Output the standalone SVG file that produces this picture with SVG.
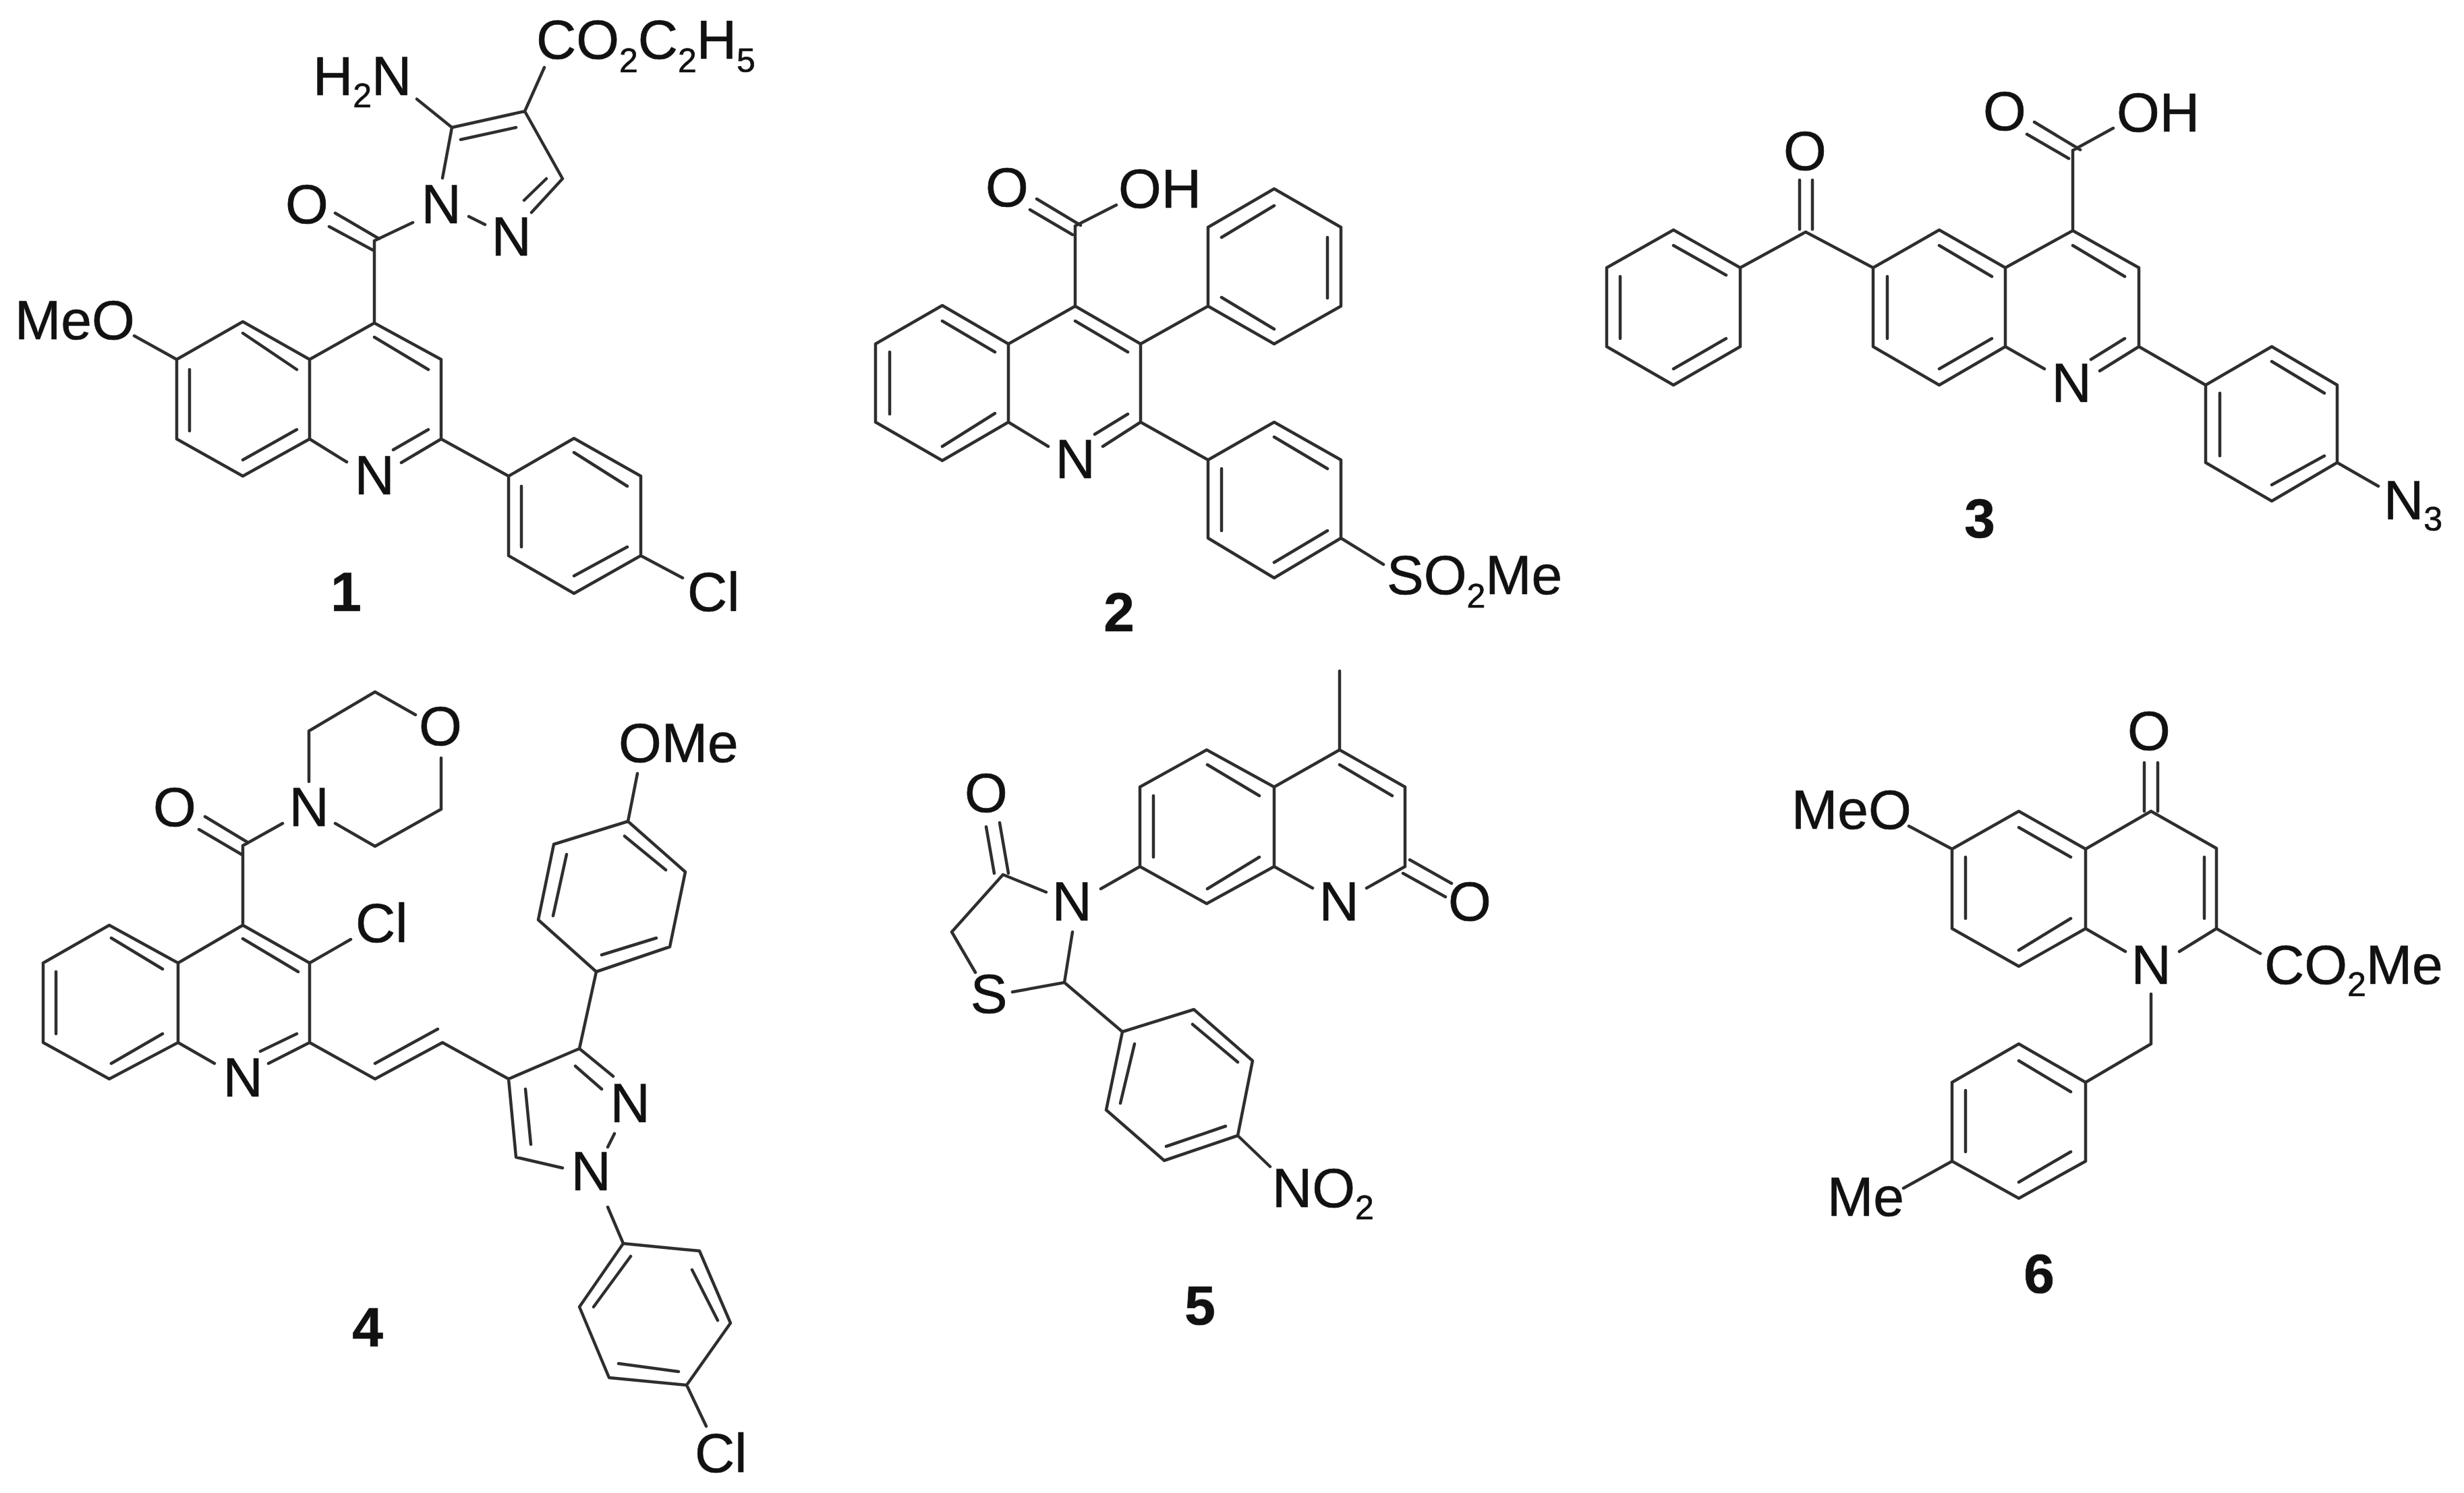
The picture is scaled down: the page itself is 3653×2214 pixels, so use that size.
<svg xmlns="http://www.w3.org/2000/svg" width="3653" height="2214" viewBox="0 0 3653 2214">
<style>
.b{fill:none;stroke:#2e2e2e;stroke-width:4.5;stroke-linecap:round;stroke-linejoin:round}
text{font-family:"Liberation Sans",Arial,sans-serif;font-size:82px;fill:#111;stroke:#111;stroke-width:0.7}
.m{text-anchor:middle}
.l{font-weight:bold;text-anchor:middle}
.s{font-size:50px}
</style>
<rect width="3653" height="2214" fill="#fff"/>
<g id="compound-1">
<path class="b" d="M360 477L459 533L459 651L360 706L262 651L262 533Z M459 533L555 479L654 533L654 651 M459 651L514 685 M654 651L595 686 M360 494L440 548 M281 548L281 639 M440 637L360 682 M555 500L635 548 M635 637L583 667 M555 479L555 357 M497 316L562 354 M488 336L553 371 M555 357L612 330 M695 321L719 333 M788 315L834 265 M777 297L810 265 M834 265L778 165 M778 165L670 189 M765 189L683 207 M670 189L656 264 M670 189L618 147 M778 165L807 100 M654 651L754 706 M754 706L851 650L950 706L950 824L851 880L754 824Z M851 671L930 721 M773 721L773 811 M930 811L851 854 M950 824L1012 857 M262 533L199 498"/>
<text x="464" y="141">H<tspan class="s" dy="18">2</tspan><tspan dy="-18">N</tspan></text>
<text x="795" y="87">CO<tspan class="s" dy="20">2</tspan><tspan dy="-20">C</tspan><tspan class="s" dy="20">2</tspan><tspan dy="-20">H</tspan><tspan class="s" dy="20">5</tspan></text>
<text x="22" y="503">MeO</text>
<text class="m" x="455" y="331">O</text>
<text class="m" x="654" y="331">N</text>
<text class="m" x="758" y="379">N</text>
<text class="m" x="555" y="733">N</text>
<text x="1019" y="906">Cl</text>
<text class="l" x="513" y="906">1</text>
</g>
<g id="compound-2">
<path class="b" d="M1397 453L1495 510L1495 626L1397 683L1298 626L1298 510Z M1495 510L1594 454L1691 510L1691 626 M1397 476L1475 522 M1319 522L1319 614 M1475 613L1397 662 M1594 476L1672 522 M1691 626L1635 662 M1672 614L1623 644 M1495 626L1554 662 M1594 454L1594 335 M1602 334L1537 295 M1590 348L1527 311 M1594 335L1655 304 M1691 510L1791 454 M1791 454L1791 337L1889 280L1988 337L1988 454L1889 510Z M1811 352L1889 305 M1968 352L1968 442 M1889 488L1811 441 M1691 626L1791 682 M1791 682L1889 626L1988 682L1988 798L1889 857L1791 798Z M1889 648L1968 695 M1811 695L1811 787 M1968 787L1889 834 M1988 798L2051 837"/>
<text class="m" x="1594" y="709">N</text>
<text class="m" x="1493" y="306">O</text>
<text x="1658" y="308">OH</text>
<text x="2056" y="881">SO<tspan class="s" dy="20">2</tspan><tspan dy="-20">Me</tspan></text>
<text class="l" x="1659" y="936">2</text>
</g>
<g id="compound-3">
<path class="b" d="M2481 341L2580 397L2580 514L2481 571L2382 514L2382 397Z M2481 364L2559 408 M2402 410L2402 502 M2559 502L2481 547 M2580 397L2677 344L2777 397 M2668 267L2668 340 M2687 267L2687 340 M2777 397L2875 341L2973 397L2973 514L2875 571L2777 514Z M2875 364L2953 410 M2798 410L2798 502 M2953 502L2875 547 M2973 397L3073 342L3171 397L3171 514 M3073 364L3150 410 M3171 514L3113 550 M3150 502L3100 533 M2973 514L3031 547 M3073 342L3073 223 M3084 222L3016 181 M3067 235L3005 199 M3073 223L3133 190 M3171 514L3270 571 M3270 571L3368 514L3465 571L3465 686L3368 743L3270 686Z M3368 536L3446 583 M3291 583L3291 676 M3446 676L3368 719 M3465 686L3526 721"/>
<text class="m" x="2676" y="252">O</text>
<text class="m" x="3071" y="596">N</text>
<text class="m" x="2972" y="193">O</text>
<text x="3138" y="195">OH</text>
<text x="3534" y="770">N<tspan class="s" dy="17">3</tspan></text>
<text class="l" x="2935" y="797">3</text>
</g>
<g id="compound-4">
<path class="b" d="M162 1372L264 1428L264 1546L162 1600L64 1546L64 1428Z M165 1391L241 1437 M83 1441L83 1533 M241 1533L165 1577 M264 1428L360 1372L459 1428L459 1546 M360 1392L442 1441 M459 1546L398 1577 M440 1533L386 1559 M264 1546L318 1577 M459 1428L520 1393 M360 1372L360 1254 M367 1249L304 1211 M358 1267L295 1230 M360 1254L419 1221 M458 1159L458 1084L556 1026L616 1060 M654 1124L654 1200L556 1255L497 1221 M459 1546L556 1600L656 1546L754 1600 M556 1577L649 1526 M754 1600L859 1555L909 1596 M853 1581L892 1615 M911 1681L901 1701 M834 1732L765 1716L754 1600 M787 1697L779 1615 M859 1555L884 1441 M884 1441L993 1404L1016 1293L931 1218L821 1252L798 1364Z M892 1416L973 1391 M987 1290L926 1240 M840 1267L820 1358 M931 1218L945 1147 M901 1790L924 1844 M924 1844L1037 1855L1083 1962L1018 2054L903 2043L859 1938Z M1026 1883L1064 1958 M917 2022L1006 2034 M880 1938L935 1863 M1018 2054L1047 2115"/>
<text class="m" x="360" y="1626">N</text>
<text x="527" y="1397">Cl</text>
<text class="m" x="259" y="1225">O</text>
<text class="m" x="458" y="1225">N</text>
<text class="m" x="653" y="1105">O</text>
<text class="m" x="934" y="1664">N</text>
<text class="m" x="876" y="1765">N</text>
<text x="917" y="1130">OMe</text>
<text x="1030" y="2183">Cl</text>
<text class="l" x="545" y="1996">4</text>
</g>
<g id="compound-5">
<path class="b" d="M1986 995L1986 1112 M1986 1112L2083 1167L2083 1285 M1889 1285L1889 1167L1986 1112 M1889 1167L1789 1112L1690 1167L1690 1285L1789 1340L1889 1285 M1790 1134L1867 1180 M1710 1180L1710 1271 M1867 1271L1790 1318 M1986 1134L2064 1180 M1889 1285L1946 1317 M2026 1317L2083 1285 M2090 1275L2152 1310 M2080 1295L2143 1330 M1690 1285L1632 1318 M1551 1323L1487 1297L1411 1382L1446 1442 M1501 1471L1578 1457L1590 1382 M1482 1220L1495 1295 M1462 1226L1474 1295 M1578 1457L1664 1530 M1664 1530L1770 1497L1857 1573L1835 1684L1726 1721L1640 1646Z M1768 1519L1835 1575 M1729 1700L1817 1670 M1661 1636L1682 1548 M1835 1684L1883 1730"/>
<text class="m" x="1985" y="1365">N</text>
<text class="m" x="2179" y="1365">O</text>
<text class="m" x="1589" y="1365">N</text>
<text class="m" x="1466" y="1502">S</text>
<text class="m" x="1462" y="1204">O</text>
<text x="1886" y="1790">NO<tspan class="s" dy="18">2</tspan></text>
<text class="l" x="1779" y="1964">5</text>
</g>
<g id="compound-6">
<path class="b" d="M3189 1203L3286 1258L3286 1377 M3092 1377L3092 1259L3189 1203 M3092 1259L2993 1203L2894 1259L2894 1377L2993 1433L3092 1377 M2993 1227L3070 1271 M2914 1271L2914 1362 M3070 1362L2993 1409 M3268 1271L3268 1362 M3092 1377L3151 1411 M3286 1377L3231 1411 M3286 1377L3351 1414 M3179 1131L3179 1203 M3199 1131L3199 1203 M2894 1259L2830 1225 M3189 1474L3189 1548L3092 1605 M3092 1605L2993 1548L2894 1605L2894 1722L2993 1777L3092 1722Z M2993 1573L3070 1619 M2914 1617L2914 1708 M3070 1708L2993 1753 M2894 1722L2822 1762"/>
<text class="m" x="3189" y="1459">N</text>
<text class="m" x="3186" y="1112">O</text>
<text x="2656" y="1229">MeO</text>
<text x="3357" y="1459">CO<tspan class="s" dy="18">2</tspan><tspan dy="-18">Me</tspan></text>
<text x="2709" y="1803">Me</text>
<text class="l" x="3023" y="1917">6</text>
</g>
</svg>
